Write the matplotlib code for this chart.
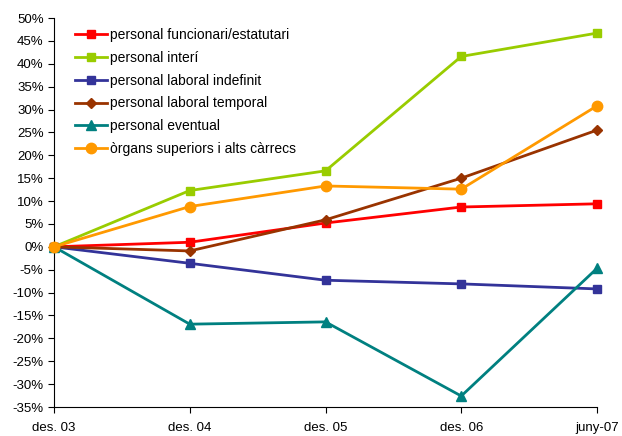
import matplotlib.pyplot as plt
from matplotlib.ticker import FuncFormatter

plt.rcParams['font.family'] = ['Liberation Sans', 'DejaVu Sans']

periods = ["des. 03", "des. 04", "des. 05", "des. 06", "juny-07"]

funcionari = [0.0, 1.0, 5.2, 8.7, 9.4]
interi = [0.0, 12.3, 16.6, 41.6, 46.7]
laboral_indefinit = [0.0, -3.6, -7.3, -8.1, -9.2]
laboral_temporal = [0.0, -0.9, 5.9, 15.0, 25.5]
eventual = [0.0, -16.9, -16.4, -32.6, -4.7]
organs = [0.0, 8.8, 13.3, 12.6, 30.8]

series = [
    ("personal funcionari/estatutari", funcionari, "#FF0000", "s", 6),
    ("personal interí", interi, "#99CC00", "s", 6),
    ("personal laboral indefinit", laboral_indefinit, "#333399", "s", 6),
    ("personal laboral temporal", laboral_temporal, "#993300", "D", 5.5),
    ("personal eventual", eventual, "#008080", "^", 7),
    ("òrgans superiors i alts càrrecs", organs, "#FF9900", "o", 7.5),
]

fig = plt.figure(figsize=(6.22, 4.36), dpi=100)
ax = fig.add_axes([54 / 622, 1 - 407 / 436, (597 - 54) / 622, (407 - 18) / 436])

x = list(range(len(periods)))
for label, vals, color, marker, ms in series:
    ax.plot(x, vals, color=color, marker=marker, markersize=ms, linewidth=2,
            label=label, clip_on=False, zorder=3)

ax.set_xlim(0, len(periods) - 1)
ax.set_ylim(-35, 50)
ax.set_yticks(range(-35, 51, 5))
ax.yaxis.set_major_formatter(FuncFormatter(lambda v, p: f"{int(v)}%"))
ax.set_xticks(x)
ax.set_xticklabels(periods)

for s in ["top", "right"]:
    ax.spines[s].set_visible(False)
ax.tick_params(axis="both", labelsize=9.5, length=4, direction="out")
ax.tick_params(axis="x", pad=7)

ax.legend(loc="upper left", bbox_to_anchor=(0.02, 1.0), frameon=False,
          fontsize=10, handlelength=2.3, handletextpad=0.25, labelspacing=0.64,
          borderaxespad=0.3)

fig.savefig("out.png", dpi=100)
